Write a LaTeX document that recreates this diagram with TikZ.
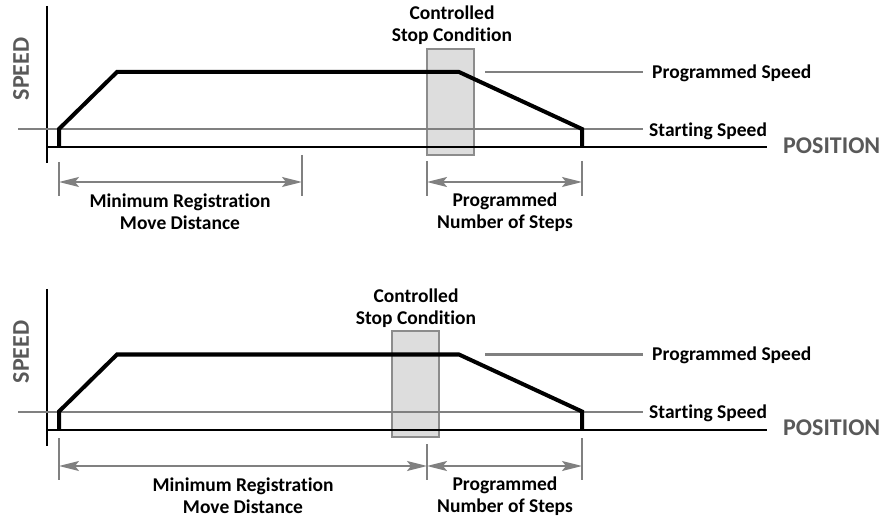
\documentclass[tikz,border=0pt]{standalone}
\usepackage{fontspec}
\setmainfont{Carlito}[Ligatures=NoCommon]
\usetikzlibrary{arrows.meta, positioning}
\definecolor{axisgray}{HTML}{595959}
\definecolor{guidegray}{HTML}{808080}
\definecolor{boxfill}{HTML}{DDDDDD}
\definecolor{boxline}{HTML}{8C8C8C}

\begin{document}
\begin{tikzpicture}[x=1pt, y=-1pt,
    axis/.style={line width=2pt, black},
    profile/.style={line width=4pt, black, line join=miter},
    guide/.style={line width=2pt, color=guidegray},
    dim/.style={{Stealth[length=20pt,width=10pt,inset=4pt]}-{Stealth[length=20pt,width=10pt,inset=4pt]},
                line width=2pt, color=guidegray},
    tick/.style={line width=2pt, color=guidegray},
    stopbox/.style={draw=boxline, fill=boxfill, line width=2pt, inner sep=0pt,
                    minimum width=47pt, minimum height=106pt},
    lbl/.style={font=\fontsize{19.5}{22}\selectfont\bfseries, align=center, inner sep=0pt},
    axislbl/.style={font=\fontsize{24}{24}\selectfont\bfseries, text=axisgray, inner sep=0pt},
]
\useasboundingbox (0,0) rectangle (883,518);

% ---------------- Panel 1: stop after the minimum distance ----------------
\node[stopbox] (stop1) at (450.5,102) {};
\node[lbl] (ctrl1) at (452,25) {Controlled\\Stop Condition};

% axes
\coordinate (yt1) at (47,6);
\coordinate (yb1) at (47,163);
\coordinate (xe1) at (767,147);
\draw[axis] (yt1) -- (yb1);
\draw[axis] (47,147) -- (xe1);
\node[axislbl, rotate=90] (speed1) at (21,69) {SPEED};
\node[axislbl, anchor=west] (pos1) at (783,146) {POSITION};

% speed levels
\coordinate (ss1) at (18,129);
\coordinate (sse1) at (643,129);
\coordinate (ps1) at (485,72);
\coordinate (pse1) at (643,72);
\draw[guide] (ss1) -- (sse1);
\draw[guide] (ps1) -- (pse1);
\node[lbl, anchor=west] (start1) at (649,131) {Starting Speed};
\node[lbl, anchor=west] (prog1) at (652,73) {Programmed Speed};

% move profile
\coordinate (p1a) at (59,147);
\coordinate (p1b) at (59,129);
\coordinate (p1c) at (117,72);
\coordinate (p1d) at (459,72);
\coordinate (p1e) at (582,129);
\coordinate (p1f) at (582,147);
\draw[profile] (p1a) -- (p1b) -- (p1c) -- (p1d) -- (p1e) -- (p1f);

% dimensions
\coordinate (t1a) at (59,182);
\coordinate (t1b) at (302,182);
\coordinate (t1c) at (427,182);
\coordinate (t1d) at (582,182);
\draw[tick] (59,162) -- (59,196);
\draw[tick] (302,155) -- (302,196);
\draw[tick] (427,161) -- (427,196);
\draw[tick] (582,161) -- (582,196);
\draw[dim] (t1a) -- (t1b);
\draw[dim] (t1c) -- (t1d);
\node[lbl] (mrd1) at (180,212) {Minimum Registration\\Move Distance};
\node[lbl] (pns1) at (505,212) {Programmed\\Number of Steps};

% ---------------- Panel 2: stop before the minimum distance ----------------
\node[stopbox] (stop2) at (415.5,384) {};
\node[lbl] (ctrl2) at (416,308) {Controlled\\Stop Condition};

% axes
\coordinate (yt2) at (47,289);
\coordinate (yb2) at (47,446);
\coordinate (xe2) at (767,429.5);
\draw[axis] (yt2) -- (yb2);
\draw[axis] (47,429.5) -- (xe2);
\node[axislbl, rotate=90] (speed2) at (21,352) {SPEED};
\node[axislbl, anchor=west] (pos2) at (783,428) {POSITION};

% speed levels
\coordinate (ss2) at (18,411.5);
\coordinate (sse2) at (643,411.5);
\coordinate (ps2) at (485,354.5);
\coordinate (pse2) at (643,354.5);
\draw[guide] (ss2) -- (sse2);
\draw[guide] (ps2) -- (pse2);
\node[lbl, anchor=west] (start2) at (649,413) {Starting Speed};
\node[lbl, anchor=west] (prog2) at (652,355) {Programmed Speed};

% move profile
\coordinate (p2a) at (59,429.5);
\coordinate (p2b) at (59,411.5);
\coordinate (p2c) at (117,354.5);
\coordinate (p2d) at (459,354.5);
\coordinate (p2e) at (582,411.5);
\coordinate (p2f) at (582,429.5);
\draw[profile] (p2a) -- (p2b) -- (p2c) -- (p2d) -- (p2e) -- (p2f);

% dimensions
\coordinate (t2a) at (59,466);
\coordinate (t2c) at (427,466);
\coordinate (t2d) at (582,466);
\draw[tick] (59,438) -- (59,480);
\draw[tick] (427,444) -- (427,480);
\draw[tick] (582,438) -- (582,480);
\draw[dim] (t2a) -- (t2c);
\draw[dim] (t2c) -- (t2d);
\node[lbl] (mrd2) at (243,496) {Minimum Registration\\Move Distance};
\node[lbl] (pns2) at (505,496) {Programmed\\Number of Steps};

\end{tikzpicture}
\end{document}
